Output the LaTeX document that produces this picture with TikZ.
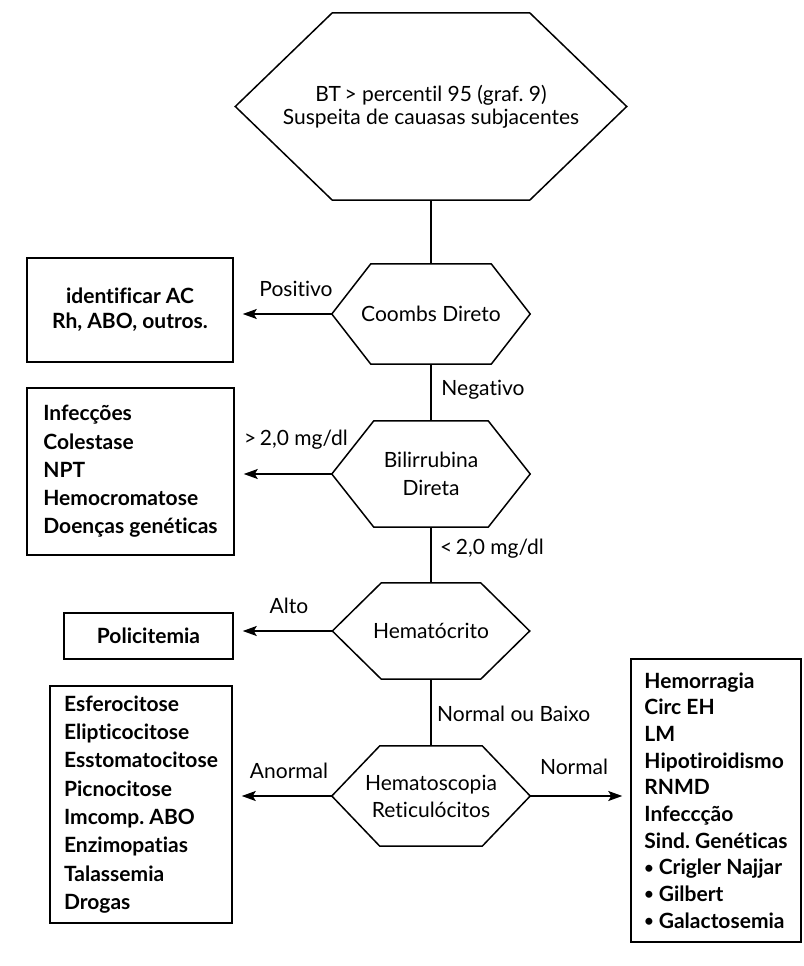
\documentclass[tikz,border=0pt]{standalone}
\usepackage{fontspec}
\setmainfont{Lato}[Ligatures=NoCommon]
\usetikzlibrary{arrows.meta,calc}
\newcommand\smbul{\raisebox{1.8pt}{\fontsize{16}{16}\selectfont •}}
\tikzset{
  hexbase/.style={inner sep=0pt, align=center, font=\frenchspacing\fontsize{21}{24}\selectfont},
  boxnode/.style={draw, line width=1.5pt, inner sep=0pt, font=\frenchspacing\bfseries\fontsize{21}{28.3}\selectfont},
  lbl/.style={font=\fontsize{21}{24}\selectfont, inner sep=0pt},
  conn/.style={line width=1.5pt},
  arr/.style={conn, -{Stealth[length=14pt,width=10pt,inset=3pt]}},
  hexline/.style={line width=1.5pt, line join=miter},
}
\newcommand\hexdraw[2]{\draw[hexline] (#1.west) -- ([xshift=#2]#1.north west) -- ([xshift=-#2]#1.north east) -- (#1.east) -- ([xshift=-#2]#1.south east) -- ([xshift=#2]#1.south west) -- cycle;}
\begin{document}
\begin{tikzpicture}[x=1pt,y=-1pt]
\useasboundingbox[fill=white] (0,0) rectangle (803,966);
% decision hexagons
\node[hexbase, minimum width=391pt, minimum height=187pt] (top) at (431,106.5) {BT\,> percentil 95 (graf. 9)\\[-1pt]Suspeita de cauasas subjacentes};
\hexdraw{top}{97pt}
\node[hexbase, minimum width=198pt, minimum height=100pt] (coombs) at (431,314) {Coombs Direto};
\hexdraw{coombs}{39pt}
\node[hexbase, minimum width=198pt, minimum height=106pt] (bili) at (431,474) {Bilirrubina\\[4pt]Direta};
\hexdraw{bili}{42pt}
\node[hexbase, minimum width=197pt, minimum height=96pt] (hemat) at (431,631) {Hematócrito};
\hexdraw{hemat}{49pt}
\node[hexbase, minimum width=198pt, minimum height=100pt] (hscop) at (431,796) {Hematoscopia\\[3pt]Reticulócitos};
\hexdraw{hscop}{48pt}
% result boxes
\node[boxnode, minimum width=206pt, minimum height=104pt, align=center] (b1) at (130,310) {identificar AC\\[-3pt]Rh, ABO, outros.};
\node[boxnode, minimum width=207pt, minimum height=167pt, align=left] (b2) at (130.5,471.5) {Infecções\\Colestase\\NPT\\Hemocromatose\\Doenças genéticas};
\node[boxnode, minimum width=169pt, minimum height=46pt, align=center] (b3) at (148.5,636) {Policitemia};
\node[boxnode, minimum width=182pt, minimum height=237pt, align=left] (b4) at (141,804.5) {Esferocitose\\Elipticocitose\\Esstomatocitose\\Picnocitose\\Imcomp. ABO\\Enzimopatias\\Talassemia\\Drogas};
\node[boxnode, minimum width=170pt, minimum height=283pt, align=left, font=\frenchspacing\bfseries\fontsize{21}{26.7}\selectfont] (b5) at (716,800.5) {Hemorragia\\Circ EH\\LM\\Hipotiroidismo\\RNMD\\Infeccção\\Sind.~Genéticas\\\smbul~Crigler Najjar\\\smbul~Gilbert\\\smbul~Galactosemia};
% connectors
\draw[conn] (top.south) -- (coombs.north);
\draw[conn] (coombs.south) -- (bili.north);
\draw[conn] (bili.south) -- (hemat.north);
\draw[conn] (hemat.south) -- (hscop.north);
\draw[arr, shorten >=9pt] (coombs.west) -- (coombs.west -| b1.east);
\draw[arr, shorten >=9pt] (bili.west) -- (bili.west -| b2.east);
\draw[arr, shorten >=9pt] (hemat.west) -- (hemat.west -| b3.east);
\draw[arr, shorten >=9pt] (hscop.west) -- (hscop.west -| b4.east);
\draw[arr, shorten >=8pt] (hscop.east) -- (hscop.east -| b5.west);
% labels
\node[lbl] (lpos) at (296,289) {Positivo};
\node[lbl] (lneg) at (483,390) {Negativo};
\node[lbl] (lgt) at (296,440) {>\,2,0 mg/dl};
\node[lbl, anchor=west] (llt) at (440,549) {<\,2,0 mg/dl};
\node[lbl] (lalto) at (289,606) {Alto};
\node[lbl, anchor=west] (lnb) at (437,714) {Normal ou Baixo};
\node[lbl] (lanor) at (289,771) {Anormal};
\node[lbl] (lnorm) at (574,767) {Normal};
\end{tikzpicture}
\end{document}
